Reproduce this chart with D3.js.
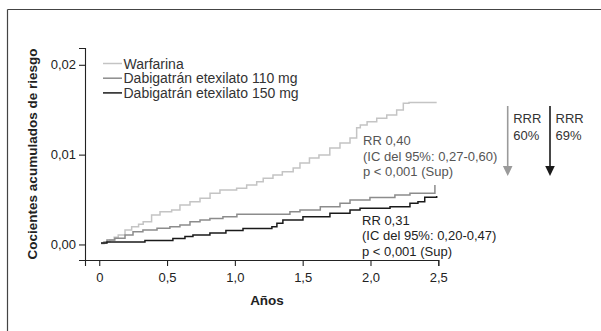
<!DOCTYPE html>
<html><head><meta charset="utf-8">
<script src="https://cdn.jsdelivr.net/npm/d3@7"></script>
<style>
body{margin:0;background:#fff;}
svg{display:block;font-family:"Liberation Sans",Arial,sans-serif;}
</style></head>
<body><svg id="c" width="601" height="331"></svg>
<script>
// ---- data ----
const seriesNames = ["Warfarina", "Dabigatrán etexilato 110 mg", "Dabigatrán etexilato 150 mg"];
const seriesColors = ["#c4c4c4", "#8c8c8c", "#1a1a1a"];
const warfarinaT = [0.018,0.05,0.079,0.11,0.14,0.19,0.239,0.29,0.324,0.386,0.448,0.534,0.595,0.669,0.743,0.817,0.89,1.013,1.087,1.161,1.209,1.281,1.35,1.43,1.48,1.55,1.62,1.70,1.775,1.849,1.898,1.925,1.975,2.046,2.12,2.193,2.242,2.284,2.488];
const warfarinaV = [0.00013,0.0003,0.0005,0.0008,0.00106,0.00161,0.00198,0.00225,0.00254,0.00328,0.00365,0.00384,0.0044,0.00476,0.00514,0.0057,0.00607,0.00626,0.00662,0.00699,0.00737,0.00774,0.0081,0.00852,0.00907,0.00963,0.00996,0.01074,0.0113,0.01186,0.0130,0.0133,0.01367,0.01405,0.01442,0.01497,0.01572,0.01579,0.01579];
const d110T = [0.013,0.035,0.057,0.115,0.19,0.249,0.322,0.426,0.521,0.595,0.669,0.743,0.816,0.912,1.015,1.406,1.48,1.63,1.775,1.849,1.996,2.18,2.291,2.475,2.475];
const d110V = [0.00011,0.00028,0.0005,0.00069,0.00106,0.00142,0.00161,0.0018,0.00198,0.00217,0.00254,0.00273,0.0029,0.00309,0.00336,0.00365,0.00384,0.00421,0.00459,0.00495,0.00523,0.00551,0.0057,0.0057,0.00662];
const d150T = [0.013,0.057,0.337,0.543,0.632,0.691,0.816,0.934,1.06,1.273,1.31,1.354,1.502,1.701,1.849,1.923,2.144,2.291,2.35,2.40,2.488,2.488];
const d150V = [0.00017,0.00028,0.00045,0.00067,0.00089,0.00106,0.00128,0.00156,0.00178,0.00198,0.00236,0.00273,0.00309,0.00347,0.00384,0.00403,0.00421,0.00459,0.00476,0.00525,0.00525,0.0054];
const xTicks = [0,0.5,1.0,1.5,2.0,2.5];
const yTicks = [0,0.01,0.02];
const annot1 = ["RR 0,40","(IC del 95%: 0,27-0,60)","p < 0,001 (Sup)"];
const annot2 = ["RR 0,31","(IC del 95%: 0,20-0,47)","p < 0,001 (Sup)"];
const rrr = [{l1:"RRR", l2:"60%", color:"#9a9a9a"},{l1:"RRR", l2:"69%", color:"#1a1a1a"}];
const yLabel = "Cocientes acumulados de riesgo";
const xLabel = "Años";

const svg = d3.select("#c");
const comma = s => s.replace(".", ",");

// frame (top + left)
svg.append("line").attr("x1",7.5).attr("x2",601).attr("y1",9.5).attr("y2",9.5).attr("stroke","#444").attr("stroke-width",1.2);
svg.append("line").attr("x1",7.5).attr("x2",7.5).attr("y1",9.5).attr("y2",331).attr("stroke","#444").attr("stroke-width",1.2);

const x = d3.scaleLinear().domain([-0.105, 2.5]).range([85, 438.3]);
const y = d3.scaleLinear().domain([-0.00173, 0.02187]).range([260, 48]);

const gx = svg.append("g").attr("transform","translate(0,260)")
  .call(d3.axisBottom(x).tickValues(xTicks).tickSizeOuter(0).tickSize(6).tickPadding(4)
    .tickFormat(d => d === 0 ? "0" : comma(d3.format(".1f")(d))));
const gy = svg.append("g").attr("transform","translate(85,0)")
  .call(d3.axisLeft(y).tickValues(yTicks).tickSizeOuter(0).tickSize(6).tickPadding(3)
    .tickFormat(d => comma(d3.format(".2f")(d))));
[gx, gy].forEach(g => {
  g.selectAll("path,line").attr("stroke","#222").attr("stroke-width",1.1);
  g.selectAll("text").attr("fill","#222").style("font-size","13px").style("font-family","'Liberation Sans',Arial,sans-serif");
});
gx.selectAll("text").attr("dy","0.9em");

// axis titles
svg.append("text").attr("transform","translate(37,154) rotate(-90)").attr("text-anchor","middle")
  .style("font-weight","bold").style("font-size","13.5px").attr("fill","#222").text(yLabel);
svg.append("text").attr("x",267).attr("y",305).attr("text-anchor","middle")
  .style("font-weight","bold").style("font-size","13.5px").attr("fill","#222").text(xLabel);

// series
const series = [
  {t: warfarinaT, v: warfarinaV},
  {t: d110T, v: d110V},
  {t: d150T, v: d150V}
];
const line = d3.line().x(d => x(d[0])).y(d => y(d[1])).curve(d3.curveStepAfter);
series.forEach((s, i) => {
  const pts = s.t.map((t, j) => [t, s.v[j]]);
  svg.append("path").attr("d", line(pts)).attr("fill","none")
    .attr("stroke", seriesColors[i]).attr("stroke-width",1.5);
});

// legend
const leg = svg.append("g");
seriesNames.forEach((n, i) => {
  const cy = 63.5 + i * 14.7;
  leg.append("line").attr("x1",103).attr("x2",122).attr("y1",cy).attr("y2",cy)
    .attr("stroke",seriesColors[i]).attr("stroke-width",1.5);
  leg.append("text").attr("x",123.5).attr("y",cy + 5).style("font-size","14px").attr("fill","#333").text(n);
});

// annotations
annot1.forEach((t, i) => {
  svg.append("text").attr("x",363).attr("y",145 + i * 15.7).style("font-size","13px").attr("fill","#555").text(t);
});
annot2.forEach((t, i) => {
  svg.append("text").attr("x",362).attr("y",225 + i * 15.3).style("font-size","13px").attr("fill","#222").text(t);
});

// RRR arrows
const arrowX = [507.7, 550];
rrr.forEach((r, i) => {
  const ax = arrowX[i];
  svg.append("line").attr("x1",ax).attr("x2",ax).attr("y1",106).attr("y2",168)
    .attr("stroke",r.color).attr("stroke-width",1.6);
  svg.append("path").attr("d",`M${ax-4.8},166 L${ax+4.8},166 L${ax},176 Z`).attr("fill",r.color);
  svg.append("text").attr("x",ax+5.5).attr("y",122.5).style("font-size","13px").attr("fill","#333").text(r.l1);
  svg.append("text").attr("x",ax+5.5).attr("y",139.5).style("font-size","13px").attr("fill","#333").text(r.l2);
});
</script></body></html>
